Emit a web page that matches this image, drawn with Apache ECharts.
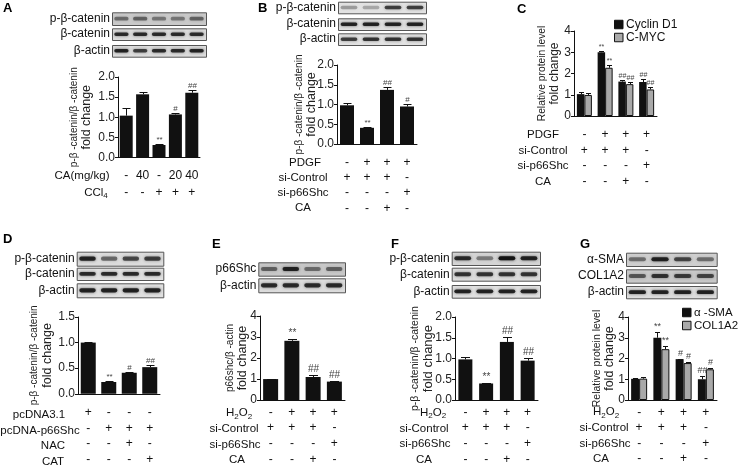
<!DOCTYPE html>
<html>
<head>
<meta charset="utf-8">
<script src="https://cdn.jsdelivr.net/npm/echarts@6/dist/echarts.min.js"></script>
<style>
html,body{margin:0;padding:0;background:#fff}
#chart{width:738px;height:467px}
</style>
</head>
<body>
<div id="chart"></div>
<script>
// ---- data ----
// A
var condA_CA = ['-', '40', '-', '20', '40'];
var condA_CCl4 = ['-', '-', '+', '+', '+'];
var valA = [1.04, 1.57, 0.31, 1.07, 1.61];
var errA = [0.18, 0.05, 0.03, 0.04, 0.07];
var sigA = ['', '', '**', '#', '##'];
// B
var condB_PDGF = ['-', '+', '+', '+'];
var condB_siCon = ['+', '+', '+', '-'];
var condB_siP66 = ['-', '-', '-', '+'];
var condB_CA = ['-', '-', '+', '-'];
var valB = [0.98, 0.41, 1.37, 0.95];
var errB = [0.05, 0.01, 0.07, 0.06];
var sigB = ['', '**', '##', '#'];
// C
var valC_cyclin = [1.03, 3.0, 1.62, 1.6];
var errC_cyclin = [0.08, 0.06, 0.07, 0.12];
var sigC_cyclin = ['', '**', '##', '##'];
var valC_myc = [0.99, 2.27, 1.5, 1.25];
var errC_myc = [0.08, 0.12, 0.1, 0.1];
var sigC_myc = ['', '**', '##', '##'];
// D
var condD_pc = ['+', '-', '-', '-'];
var condD_p66 = ['-', '+', '+', '+'];
var condD_NAC = ['-', '-', '+', '-'];
var condD_CAT = ['-', '-', '-', '+'];
var valD = [1.0, 0.23, 0.41, 0.52];
var errD = [0.01, 0.02, 0.01, 0.04];
var sigD = ['', '**', '#', '##'];
// E, F, G share the same treatment table
var condH2O2 = ['-', '+', '+', '+'];
var condSiCon = ['+', '+', '+', '-'];
var condSiP66 = ['-', '-', '-', '+'];
var condCA = ['-', '-', '+', '-'];
var valE = [1.0, 2.82, 1.1, 0.88];
var errE = [0.02, 0.08, 0.1, 0.05];
var sigE = ['', '**', '##', '##'];
var valF = [0.98, 0.40, 1.40, 0.95];
var errF = [0.06, 0.01, 0.13, 0.06];
var sigF = ['', '**', '##', '##'];
var valG_sma = [1.02, 3.0, 1.97, 1.0];
var errG_sma = [0.03, 0.3, 0.03, 0.15];
var sigG_sma = ['', '**', '#', '##'];
var valG_col = [1.03, 2.45, 1.78, 1.48];
var errG_col = [0.09, 0.17, 0.06, 0.06];
var sigG_col = ['', '**', '#', '#'];

// blot band darkness per lane
var bandA = [[0.45, 0.5, 0.4, 0.4, 0.5], [0.8, 0.8, 0.8, 0.8, 0.8], [0.85, 0.7, 0.8, 0.8, 0.85]];
var bandB = [[0.3, 0.25, 0.7, 0.7], [0.85, 0.85, 0.85, 0.85], [0.7, 0.75, 0.75, 0.75]];
var bandD = [[0.85, 0.5, 0.65, 0.7], [0.8, 0.8, 0.8, 0.8], [0.85, 0.85, 0.85, 0.85]];
var bandE = [[0.5, 0.85, 0.45, 0.5], [0.8, 0.8, 0.8, 0.8]];
var bandF = [[0.8, 0.4, 0.95, 0.85], [0.75, 0.75, 0.75, 0.75], [0.85, 0.85, 0.85, 0.85]];
var bandG = [[0.45, 0.85, 0.65, 0.45], [0.55, 0.75, 0.7, 0.65], [0.85, 0.85, 0.85, 0.85]];

var FONT = '"Liberation Sans", Arial, Helvetica, sans-serif';
var INK = '#111';
var sub = {s: {fontSize: 8, lineHeight: 8, verticalAlign: 'bottom', fill: INK}};

var chart = echarts.init(document.getElementById('chart'));
var grids = [], xAxes = [], yAxes = [], series = [], legends = [], gfx = [];

function errSeries(k, vals, errs, sigs, offset, capW, sigSize) {
    return {
        type: 'custom', xAxisIndex: k, yAxisIndex: k, z: 4, silent: true,
        data: vals.map(function (v, i) { return [i, v, v + errs[i]]; }),
        renderItem: function (params, api) {
            var p0 = api.coord([api.value(0), api.value(1)]);
            var p1 = api.coord([api.value(0), api.value(2)]);
            var x = Math.round(p0[0] + offset) + 0.5;
            var y1 = Math.round(p1[1]) + 0.5;
            var kids = [
                {type: 'line', shape: {x1: x, y1: p0[1], x2: x, y2: y1}, style: {stroke: INK, lineWidth: 1}},
                {type: 'line', shape: {x1: x - capW / 2, y1: y1, x2: x + capW / 2, y2: y1}, style: {stroke: INK, lineWidth: 1}}
            ];
            var s = sigs[params.dataIndex];
            if (s) {
                kids.push({type: 'text', x: x, y: y1 - 1, style: {text: s, align: 'center', verticalAlign: 'bottom',
                    fontSize: sigSize, fontFamily: FONT, fill: '#444'}});
            }
            return {type: 'group', children: kids};
        }
    };
}

function addPanel(p) {
    var k = grids.length;
    var rows = p.conds;
    grids.push({left: p.left, top: p.top, width: p.width, height: p.height});
    xAxes.push({
        type: 'category', gridIndex: k, data: rows[0].map(function (_, i) { return 'g' + i; }),
        axisLine: {lineStyle: {color: INK, width: 1}},
        axisTick: {alignWithLabel: true, length: 3, lineStyle: {color: INK}},
        axisLabel: {
            interval: 0, fontSize: 12, fontFamily: FONT, color: INK, lineHeight: p.rowGap, margin: p.margin,
            formatter: function (v, i) { return rows.map(function (r) { return r[i]; }).join('\n'); }
        }
    });
    yAxes.push({
        type: 'value', gridIndex: k, min: 0, max: p.max, interval: p.step,
        axisLine: {show: true, lineStyle: {color: INK, width: 1}},
        axisTick: {show: true, length: 3, lineStyle: {color: INK}},
        splitLine: {show: false},
        axisLabel: {fontSize: 12, fontFamily: FONT, color: '#222', margin: 3,
            formatter: function (v) { return p.step < 1 ? v.toFixed(1) : String(v); }},
        name: '{a|' + p.title[0] + '}\n{b|' + p.title[1] + '}',
        nameLocation: 'middle', nameRotate: 90, nameGap: p.nameGap, nameMoveOverlap: false,
        nameTextStyle: {color: '#222', fontFamily: FONT, rich: {
            a: {fontSize: p.titleSize[0], lineHeight: 13, fontFamily: FONT, color: '#222'},
            b: {fontSize: p.titleSize[1], lineHeight: 13, fontFamily: FONT, color: '#222'}
        }}
    });
    var n = p.bars.length;
    p.bars.forEach(function (b, j) {
        var off = n === 1 ? 0 : (j - (n - 1) / 2) * p.barWidth;
        series.push({
            name: b.name, type: 'bar', xAxisIndex: k, yAxisIndex: k, data: b.vals,
            barWidth: p.barWidth, barGap: '0%', z: 3,
            itemStyle: {color: b.color, borderColor: INK, borderWidth: b.color === INK ? 0 : 1}
        });
        series.push(errSeries(k, b.vals, b.errs, b.sigs, off, p.capW, p.sigSize));
    });
    // treatment row names
    var axisY = p.top + p.height;
    p.rowNames.forEach(function (t, r) {
        gfx.push({type: 'text', x: p.rowX[r], y: axisY + p.margin + p.rowGap * (r + 0.5),
            style: {text: t, align: 'center', verticalAlign: 'middle', fontSize: 11.5, fontFamily: FONT,
                fill: INK, lineHeight: 14, rich: sub}});
    });
    // panel letter
    gfx.push({type: 'text', x: p.letterPos[0], y: p.letterPos[1],
        style: {text: p.letter, fontSize: 13, fontWeight: 'bold', fontFamily: FONT, fill: '#000', verticalAlign: 'top'}});
    // western blot strips
    var b = p.blot;
    b.rows.forEach(function (row, r) {
        var y0 = row[0], h = row[1] - row[0], w = b.x1 - b.x0;
        var bands = b.bands[r];
        gfx.push({type: 'text', x: b.x0 - 2, y: y0 + h / 2,
            style: {text: b.labels[r], align: 'right', verticalAlign: 'middle', fontSize: 12, fontFamily: FONT, fill: INK}});
        gfx.push({type: 'rect', shape: {x: b.x0 + 0.5, y: y0 + 0.5, width: w, height: h},
            style: {fill: b.bg[r], stroke: '#555', lineWidth: 1}});
        var laneW = w / bands.length;
        bands.forEach(function (a, i) {
            var bh = Math.max(2.5, h * 0.3);
            gfx.push({type: 'rect', shape: {x: b.x0 + laneW * i + laneW * 0.12, y: y0 + h / 2 - bh / 2,
                width: laneW * 0.76, height: bh, r: bh / 2},
                style: {fill: 'rgba(15,15,15,' + a + ')', shadowBlur: 3, shadowColor: 'rgba(15,15,15,' + (a * 0.8) + ')'}});
        });
    });
}

addPanel({
    letter: 'A', letterPos: [3, 2],
    left: 118, top: 77, width: 82, height: 80.5, max: 2, step: 0.5,
    title: ['p-β -catenin/β -catenin', 'fold change'], titleSize: [10, 12.5], nameGap: 24.5,
    conds: [condA_CA, condA_CCl4], rowNames: ['CA(mg/kg)', 'CCl{s|4}'], rowX: [82, 96],
    rowGap: 16.5, margin: 10.25,
    barWidth: 13, capW: 8, sigSize: 8,
    bars: [{name: 'A', vals: valA, errs: errA, sigs: sigA, color: INK}],
    blot: {x0: 112, x1: 206, rows: [[12.3, 25], [28.3, 40], [45, 56.7]],
        labels: ['p-β-catenin', 'β-catenin', 'β-actin'], bands: bandA, bg: ['#c9c9c9', '#dcdcdc', '#dcdcdc']}
});
addPanel({
    letter: 'B', letterPos: [258, 2],
    left: 337, top: 65, width: 80, height: 79, max: 2, step: 0.5,
    title: ['p-β -catenin/β -catenin', 'fold change'], titleSize: [10, 12.5], nameGap: 18.5,
    conds: [condB_PDGF, condB_siCon, condB_siP66, condB_CA],
    rowNames: ['PDGF', 'si-Control', 'si-p66Shc', 'CA'], rowX: [305, 303, 303, 303],
    rowGap: 15.2, margin: 11,
    barWidth: 14, capW: 8, sigSize: 8,
    bars: [{name: 'B', vals: valB, errs: errB, sigs: sigB, color: INK}],
    blot: {x0: 338, x1: 426, rows: [[1.7, 13.3], [18.3, 30], [33.3, 45]],
        labels: ['p-β-catenin', 'β-catenin', 'β-actin'], bands: bandB, bg: ['#e2e2e2', '#dedede', '#e2e2e2']}
});
addPanel({
    letter: 'C', letterPos: [517, 3],
    left: 574, top: 31, width: 83, height: 85, max: 4, step: 1,
    title: ['Relative protein level', 'fold change'], titleSize: [10.3, 12], nameGap: 12.5,
    conds: [condB_PDGF, condB_siCon, condB_siP66, condB_CA],
    rowNames: ['PDGF', 'si-Control', 'si-p66Shc', 'CA'], rowX: [543, 543, 543, 543],
    rowGap: 15.5, margin: 11.25,
    barWidth: 7.5, capW: 5, sigSize: 7,
    bars: [
        {name: 'Cyclin D1', vals: valC_cyclin, errs: errC_cyclin, sigs: sigC_cyclin, color: INK},
        {name: 'C-MYC', vals: valC_myc, errs: errC_myc, sigs: sigC_myc, color: '#a9a9a9'}
    ],
    blot: {x0: 0, x1: 0, rows: [], labels: [], bands: [], bg: []}
});
addPanel({
    letter: 'D', letterPos: [3, 233],
    left: 78, top: 317, width: 82, height: 79, max: 1.5, step: 0.5,
    title: ['p-β -catenin/β -catenin', 'fold change'], titleSize: [10, 12.5], nameGap: 24,
    conds: [condD_pc, condD_p66, condD_NAC, condD_CAT],
    rowNames: ['pcDNA3.1', 'pcDNA-p66Shc', 'NAC', 'CAT'], rowX: [39, 40, 53, 53],
    rowGap: 15.5, margin: 11.25,
    barWidth: 15, capW: 8, sigSize: 8,
    bars: [{name: 'D', vals: valD, errs: errD, sigs: sigD, color: INK}],
    blot: {x0: 76.7, x1: 163.3, rows: [[251.7, 265.7], [267.7, 280], [283.3, 297.3]],
        labels: ['p-β-catenin', 'β-catenin', 'β-actin'], bands: bandD, bg: ['#dcdcdc', '#e0e0e0', '#e0e0e0']}
});
addPanel({
    letter: 'E', letterPos: [212, 238],
    left: 260, top: 316, width: 85, height: 85, max: 4, step: 1,
    title: ['p66shc/β -actin', 'fold change'], titleSize: [10, 12.5], nameGap: 10.5,
    conds: [condH2O2, condSiCon, condSiP66, condCA],
    rowNames: ['H{s|2}O{s|2}', 'si-Control', 'si-p66Shc', 'CA'], rowX: [239, 234, 235, 237],
    rowGap: 15.6, margin: 4.5,
    barWidth: 15, capW: 9, sigSize: 10,
    bars: [{name: 'E', vals: valE, errs: errE, sigs: sigE, color: INK}],
    blot: {x0: 258.3, x1: 345, rows: [[262.3, 275.7], [278.3, 292.3]],
        labels: ['p66Shc', 'β-actin'], bands: bandE, bg: ['#c8c8c8', '#dcdcdc']}
});
addPanel({
    letter: 'F', letterPos: [391, 238],
    left: 455, top: 317, width: 83, height: 83.7, max: 2, step: 0.5,
    title: ['p-β -catenin/β -catenin', 'fold change'], titleSize: [10.5, 13], nameGap: 20.5,
    conds: [condH2O2, condSiCon, condSiP66, condCA],
    rowNames: ['H{s|2}O{s|2}', 'si-Control', 'si-p66Shc', 'CA'], rowX: [433, 424, 425, 424],
    rowGap: 15.6, margin: 4.5,
    barWidth: 14, capW: 9, sigSize: 10,
    bars: [{name: 'F', vals: valF, errs: errF, sigs: sigF, color: INK}],
    blot: {x0: 451.7, x1: 540, rows: [[251.7, 265], [267.7, 280.7], [285, 297.7]],
        labels: ['p-β-catenin', 'β-catenin', 'β-actin'], bands: bandF, bg: ['#d4d4d4', '#dcdcdc', '#e0e0e0']}
});
addPanel({
    letter: 'G', letterPos: [580, 238],
    left: 628, top: 317, width: 89, height: 83, max: 4, step: 1,
    title: ['Relative protein level', 'fold change'], titleSize: [10.5, 12.5], nameGap: 11.5,
    conds: [condH2O2, condSiCon, condSiP66, condCA],
    rowNames: ['H{s|2}O{s|2}', 'si-Control', 'si-p66Shc', 'CA'], rowX: [606, 604, 605, 601],
    rowGap: 15.6, margin: 4.5,
    barWidth: 8, capW: 5, sigSize: 9,
    bars: [
        {name: 'α -SMA', vals: valG_sma, errs: errG_sma, sigs: sigG_sma, color: INK},
        {name: 'COL1A2', vals: valG_col, errs: errG_col, sigs: sigG_col, color: '#a9a9a9'}
    ],
    blot: {x0: 626, x1: 716.7, rows: [[252.7, 266], [269.3, 282.7], [286, 298.3]],
        labels: ['α-SMA', 'COL1A2', 'β-actin'], bands: bandG, bg: ['#cfcfcf', '#c8c8c8', '#dcdcdc']}
});

function legendAt(left, top, names, size) {
    return {
        data: names, orient: 'vertical', left: left, top: top, itemWidth: 8.5, itemHeight: 8.5, itemGap: 0,
        icon: 'rect', selectedMode: false, padding: 0, itemStyle: {borderColor: INK, borderWidth: 1},
        textStyle: {fontSize: size, fontFamily: FONT, color: INK, lineHeight: 13, padding: [0, 0, 0, -2]}
    };
}
legends.push(legendAt(614, 18, ['Cyclin D1', 'C-MYC'], 12));
legends.push(legendAt(682, 306, ['α -SMA', 'COL1A2'], 11.5));

chart.setOption({
    animation: false,
    backgroundColor: '#fff',
    textStyle: {fontFamily: FONT},
    grid: grids,
    xAxis: xAxes,
    yAxis: yAxes,
    legend: legends,
    series: series,
    graphic: {elements: gfx}
});
</script>
</body>
</html>
